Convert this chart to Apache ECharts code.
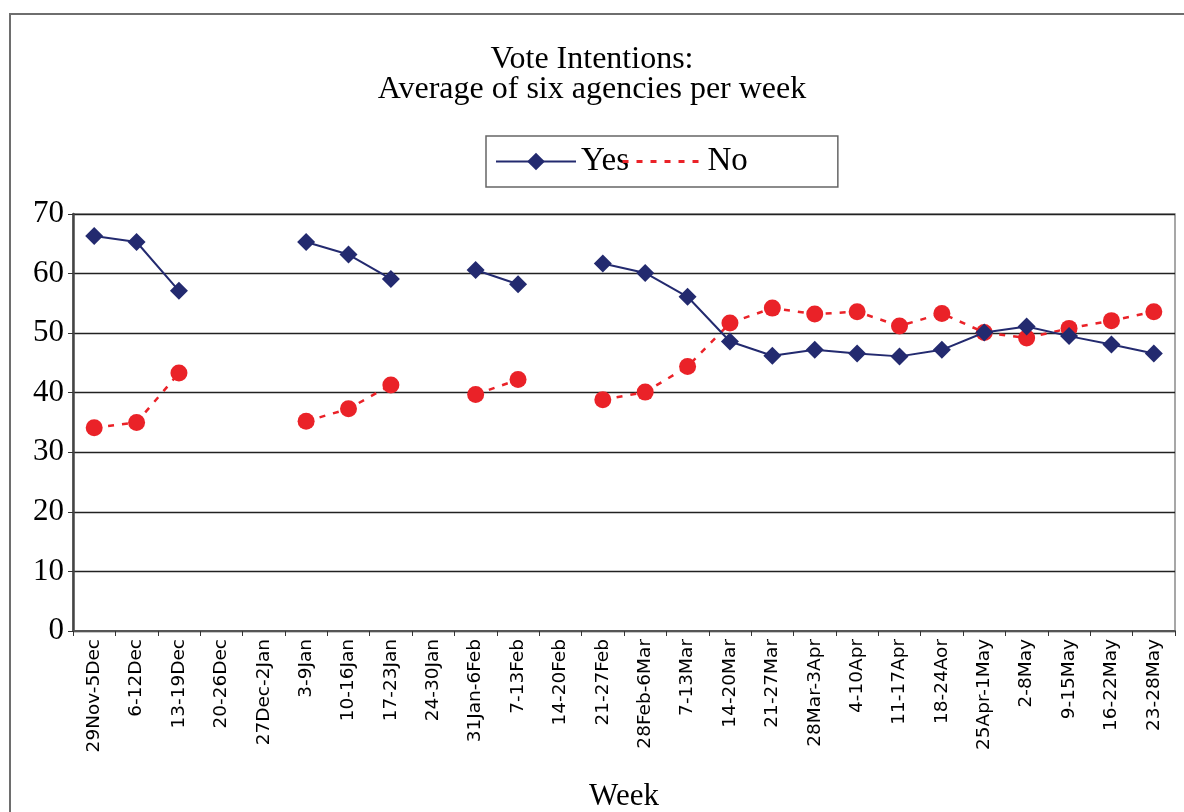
<!DOCTYPE html>
<html>
<head>
<meta charset="utf-8">
<script src="https://cdn.jsdelivr.net/npm/echarts@6/dist/echarts.min.js"></script>
<style>
  html, body { margin: 0; padding: 0; background: #fff; }
  #chart { width: 1184px; height: 812px; }
</style>
</head>
<body>
<div id="chart"></div>
<script>
// Weekly poll averages (six agencies); null = no polling that week
const weeks = [
  '29Nov-5Dec', '6-12Dec', '13-19Dec', '20-26Dec', '27Dec-2Jan', '3-9Jan',
  '10-16Jan', '17-23Jan', '24-30Jan', '31Jan-6Feb', '7-13Feb', '14-20Feb',
  '21-27Feb', '28Feb-6Mar', '7-13Mar', '14-20Mar', '21-27Mar', '28Mar-3Apr',
  '4-10Apr', '11-17Apr', '18-24Aor', '25Apr-1May', '2-8May', '9-15May',
  '16-22May', '23-28May'
];
const yesValues = [
  66.3, 65.3, 57.1, null, null, 65.3,
  63.2, 59.1, null, 60.6, 58.2, null,
  61.7, 60.1, 56.1, 48.6, 46.2, 47.2,
  46.6, 46.1, 47.2, 50.1, 51.1, 49.5,
  48.1, 46.6
];
const noValues = [
  34.1, 35.0, 43.3, null, null, 35.2,
  37.3, 41.3, null, 39.7, 42.2, null,
  38.8, 40.1, 44.4, 51.7, 54.2, 53.2,
  53.6, 51.2, 53.3, 50.1, 49.2, 50.8,
  52.1, 53.6
];
const yTicks = { min: 0, max: 70, interval: 10 };

const serif = '"Liberation Serif", "Times New Roman", serif';
const sans = '"DejaVu Sans", Verdana, sans-serif';
const navy = '#232a6f';
const red = '#ea2228';

const chart = echarts.init(document.getElementById('chart'), null, { renderer: 'canvas' });

chart.setOption({
  backgroundColor: '#fff',
  animation: false,
  title: {
    text: 'Vote Intentions:\nAverage of six agencies per week',
    left: 'center',
    top: 40,
    textStyle: {
      fontFamily: serif,
      fontSize: 32,
      fontWeight: 'normal',
      color: '#000',
      lineHeight: 30
    }
  },
  legend: {
    left: 486,
    top: 136,
    padding: [9, 90, 9, 9],
    borderColor: '#666',
    borderWidth: 1.5,
    itemWidth: 80,
    itemHeight: 22,
    itemGap: -8,
    textStyle: { fontFamily: serif, fontSize: 33, color: '#000' },
    data: [
      { name: 'Yes' },
      { name: 'No', itemStyle: { opacity: 0 }, lineStyle: { width: 3 } }
    ]
  },
  graphic: [
    {
      type: 'polyline',
      silent: true,
      shape: { points: [[10, 830], [10, 14], [1190, 14]] },
      style: { stroke: '#6e6e6e', lineWidth: 2, fill: null }
    }
  ],
  grid: {
    left: 73,
    right: 9,
    top: 214,
    bottom: 181,
    containLabel: false,
    outerBoundsMode: 'none',
    show: true,
    borderColor: '#8a8a8a',
    borderWidth: 1.5
  },
  xAxis: {
    type: 'category',
    data: weeks,
    boundaryGap: true,
    name: 'Week',
    nameLocation: 'middle',
    nameGap: 150,
    nameTextStyle: { fontFamily: serif, fontSize: 31, color: '#000' },
    axisLine: { lineStyle: { color: '#555', width: 2 } },
    axisTick: { show: true, length: 5, lineStyle: { color: '#333' } },
    axisLabel: {
      rotate: 90,
      interval: 0,
      margin: 8,
      fontFamily: sans,
      fontSize: 18.5,
      color: '#000'
    },
    splitLine: { show: false }
  },
  yAxis: {
    type: 'value',
    min: yTicks.min,
    max: yTicks.max,
    interval: yTicks.interval,
    axisLine: { show: true, lineStyle: { color: '#444', width: 2.5 } },
    axisTick: { show: true, length: 5, lineStyle: { color: '#333' } },
    axisLabel: {
      margin: 9,
      fontFamily: serif,
      fontSize: 31,
      color: '#000'
    },
    splitLine: { show: true, lineStyle: { color: '#222', width: 1.3 } }
  },
  series: [
    {
      name: 'Yes',
      type: 'line',
      data: yesValues,
      connectNulls: false,
      symbol: 'diamond',
      symbolSize: 18,
      color: navy,
      itemStyle: { color: navy },
      lineStyle: { color: navy, width: 2 },
      z: 3
    },
    {
      name: 'No',
      type: 'line',
      data: noValues,
      connectNulls: false,
      symbol: 'circle',
      symbolSize: 17,
      color: red,
      itemStyle: { color: red },
      lineStyle: { color: red, width: 2.5, type: [6, 8] },
      z: 2
    }
  ]
});
</script>
</body>
</html>
